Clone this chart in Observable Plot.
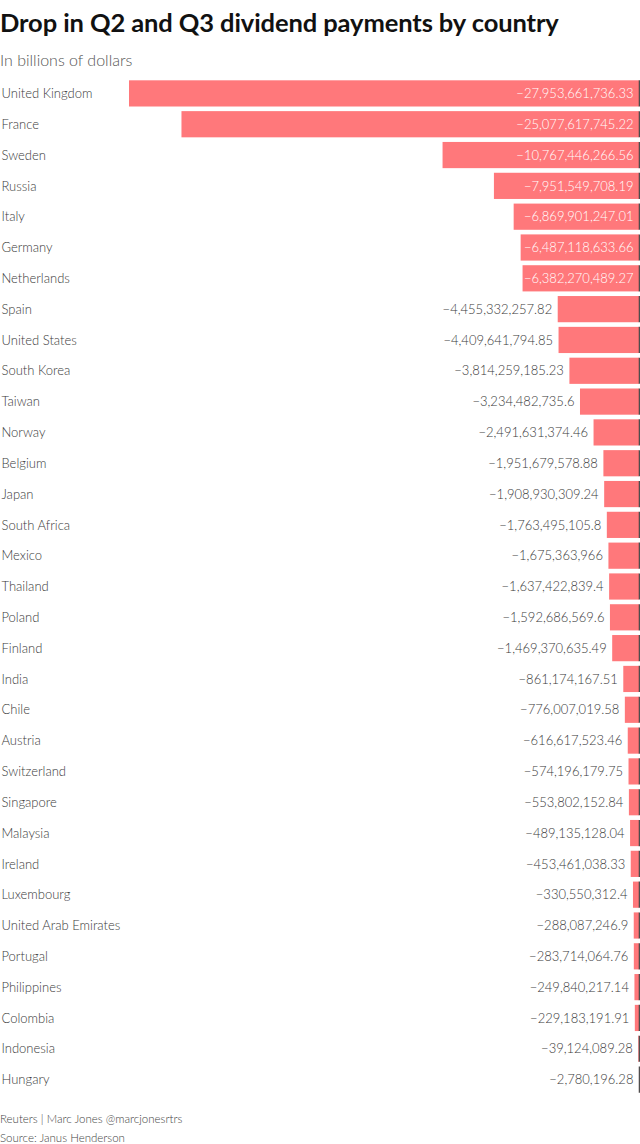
<!DOCTYPE html>
<html>
<head>
<meta charset="utf-8">
<script src="https://cdn.jsdelivr.net/npm/d3@7"></script>
<script src="https://cdn.jsdelivr.net/npm/@observablehq/plot@0.6"></script>
<style>
  body { margin: 0; background: #fff; font-family: Lato, "Noto Sans", sans-serif; }
  #wrap { width: 640px; }
  .title { font-size: 25.5px; font-weight: 700; color: #111; height: 44px; line-height: 44px; white-space: nowrap; letter-spacing: -0.1px; }
  .subtitle { font-size: 16px; font-weight: 300; color: #555; height: 30px; line-height: 32px; }
  .footer { font-size: 11.5px; font-weight: 300; color: #444; line-height: 19px; margin-top: 8px; }
  svg { display: block; }
</style>
</head>
<body>
<div id="wrap">
  <div class="title">Drop in Q2 and Q3 dividend payments by country</div>
  <div class="subtitle">In billions of dollars</div>
  <div id="chart"></div>
  <div class="footer">Reuters | Marc Jones @marcjonesrtrs<br>Source: Janus Henderson</div>
</div>
<script>
const countries = ["United Kingdom","France","Sweden","Russia","Italy","Germany","Netherlands","Spain","United States","South Korea","Taiwan","Norway","Belgium","Japan","South Africa","Mexico","Thailand","Poland","Finland","India","Chile","Austria","Switzerland","Singapore","Malaysia","Ireland","Luxembourg","United Arab Emirates","Portugal","Philippines","Colombia","Indonesia","Hungary"];
const drops = [-27953661736.33,-25077617745.22,-10767446266.56,-7951549708.19,-6869901247.01,-6487118633.66,-6382270489.27,-4455332257.82,-4409641794.85,-3814259185.23,-3234482735.6,-2491631374.46,-1951679578.88,-1908930309.24,-1763495105.8,-1675363966,-1637422839.4,-1592686569.6,-1469370635.49,-861174167.51,-776007019.58,-616617523.46,-574196179.75,-553802152.84,-489135128.04,-453461038.33,-330550312.4,-288087246.9,-283714064.76,-249840217.14,-229183191.91,-39124089.28,-2780196.28];

const data = countries.map((c, i) => ({country: c, value: drops[i]}));
const fmt = v => (v < 0 ? "\u2212" : "") + Math.abs(v).toLocaleString("en-US", {maximumFractionDigits: 2});
const inside = d => d.value < -5e9;

const chart = Plot.plot({
  width: 640,
  height: 1027,
  marginTop: 4,
  marginBottom: 6,
  marginLeft: 129,
  marginRight: 1,
  style: {fontFamily: "Lato, 'Noto Sans', sans-serif", fontSize: "13px", fontWeight: 300, color: "#333", background: "#fff"},
  x: {domain: [d3.min(drops), 0], axis: null},
  y: {domain: countries, paddingInner: 0.15, paddingOuter: 0.075, round: false, label: null},
  marks: [
    Plot.barX(data, {x: "value", y: "country", fill: "#ff787b"}),
    Plot.tickX(data, {x: d => 0, y: "country", stroke: "#222", strokeOpacity: 0.8, strokeWidth: 1.5}),
    Plot.axisY({tickSize: 0, tickPadding: 0, textAnchor: "start", dx: -128, fontSize: 13, fill: "#3a3a3a", label: null}),
    Plot.text(data.filter(inside), {x: 0, y: "country", text: d => fmt(d.value), textAnchor: "end", dx: -6, fill: "#fff", fontSize: 13}),
    Plot.text(data.filter(d => !inside(d)), {x: "value", y: "country", text: d => fmt(d.value), textAnchor: "end", dx: -6, fill: "#3a3a3a", fontSize: 13})
  ]
});
document.getElementById("chart").appendChild(chart);
</script>
</body>
</html>
